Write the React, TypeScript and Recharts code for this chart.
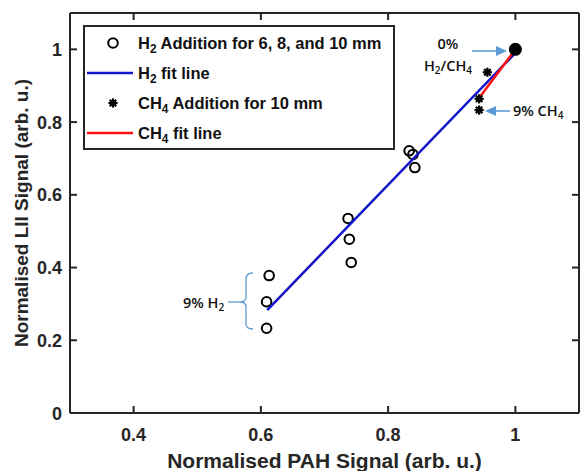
import React from 'react';
import { ScatterChart, Scatter, XAxis, YAxis, Legend } from 'recharts';

// H2 addition points (6, 8 and 10 mm)
const h2Pah = [0.613, 0.609, 0.609, 0.737, 0.739, 0.742, 0.833, 0.839, 0.842];
const h2Lii = [0.378, 0.306, 0.233, 0.535, 0.478, 0.414, 0.721, 0.711, 0.675];

// CH4 addition points (10 mm)
const ch4Pah = [0.956, 0.943, 0.943];
const ch4Lii = [0.937, 0.864, 0.833];

// 0% H2/CH4 reference point
const refPah = [1.0];
const refLii = [1.0];

// fit lines (end points)
const h2FitPah = [0.61, 1.0];
const h2FitLii = [0.283, 0.99];
const ch4FitPah = [0.943, 1.0];
const ch4FitLii = [0.866, 1.0];

const xTicks = [0.4, 0.6, 0.8, 1];
const yTicks = [0, 0.2, 0.4, 0.6, 0.8, 1];

const toPoints = (xs: number[], ys: number[]) => xs.map((x, i) => ({ pah: x, lii: ys[i] }));

const AXIS = '#262626';
const FONT = '"Liberation Sans", Arial, sans-serif';
const BLUE = '#1414c8';
const RED = '#ff1010';
const NOTE = '#5b9bd5';
const TICK_LEN = 7;

const OpenCircle = (props: any) => (
    <circle cx={props.cx} cy={props.cy} r={4.8} fill="none" stroke="#000" strokeWidth={2} />
);

const Star = (props: any) => {
    const { cx, cy } = props;
    const r = 4.6;
    const arms = [0, 45, 90, 135].map((a) => {
        const rad = (a * Math.PI) / 180;
        return (
            <line key={a} x1={cx - r * Math.cos(rad)} y1={cy - r * Math.sin(rad)} x2={cx + r * Math.cos(rad)} y2={cy + r * Math.sin(rad)} stroke="#000" strokeWidth={2.2} />
        );
    });
    return <g>{arms}<circle cx={cx} cy={cy} r={2.8} fill="#000" /></g>;
};

const BigDot = (props: any) => <circle cx={props.cx} cy={props.cy} r={6.5} fill="#000" />;

const NoShape = () => <g />;

// ticks drawn inward, like a MATLAB box
const tickText = { fill: AXIS, fontSize: 18, fontWeight: 'bold' as const, fontFamily: FONT };

const BottomTick = (props: any) => {
    const { x, y, payload } = props;
    return (
        <g>
            <line x1={x} y1={y} x2={x} y2={y - TICK_LEN} stroke={AXIS} strokeWidth={2} />
            <text x={x} y={y + 28} textAnchor="middle" style={tickText}>{payload.value}</text>
        </g>
    );
};
const TopTick = (props: any) => (
    <line x1={props.x} y1={props.y} x2={props.x} y2={props.y + TICK_LEN} stroke={AXIS} strokeWidth={2} />
);
const LeftTick = (props: any) => {
    const { x, y, payload } = props;
    return (
        <g>
            <line x1={x} y1={y} x2={x + TICK_LEN} y2={y} stroke={AXIS} strokeWidth={2} />
            <text x={x - 8} y={y + 6.5} textAnchor="end" style={tickText}>{payload.value}</text>
        </g>
    );
};
const RightTick = (props: any) => (
    <line x1={props.x} y1={props.y} x2={props.x - TICK_LEN} y2={props.y} stroke={AXIS} strokeWidth={2} />
);

const Sub = ({ children }: { children: React.ReactNode }) => (
    <span style={{ fontSize: '0.72em', position: 'relative', top: '0.35em' }}>{children}</span>
);

const rowStyle: React.CSSProperties = { position: 'absolute', left: 0, height: 30, width: '100%', display: 'flex', alignItems: 'center' };

const LegendBox = () => (
    <div style={{ position: 'relative', width: 312, height: 125, border: `2px solid ${AXIS}`, background: '#fff', boxSizing: 'border-box', fontFamily: FONT, fontWeight: 'bold', fontSize: 16.5, color: '#111' }}>
        <div style={{ ...rowStyle, top: 1 }}>
            <svg width={52} height={30}><OpenCircle cx={28} cy={15} /></svg>
            <span style={{ marginLeft: 1 }}>H<Sub>2</Sub> Addition for 6, 8, and 10 mm</span>
        </div>
        <div style={{ ...rowStyle, top: 31 }}>
            <svg width={52} height={30}><line x1={2} y1={15} x2={48} y2={15} stroke={BLUE} strokeWidth={2.5} /></svg>
            <span style={{ marginLeft: 1 }}>H<Sub>2</Sub> fit line</span>
        </div>
        <div style={{ ...rowStyle, top: 61 }}>
            <svg width={52} height={30}><Star cx={28} cy={15} /></svg>
            <span style={{ marginLeft: 1 }}>CH<Sub>4</Sub> Addition for 10 mm</span>
        </div>
        <div style={{ ...rowStyle, top: 91 }}>
            <svg width={52} height={30}><line x1={2} y1={15} x2={48} y2={15} stroke={RED} strokeWidth={2.5} /></svg>
            <span style={{ marginLeft: 1 }}>CH<Sub>4</Sub> fit line</span>
        </div>
    </div>
);

const noteText = { fontFamily: '"Open Sans", Lato, sans-serif', fontSize: 14.5, fontWeight: 600, fill: '#111' };

const Notes = () => (
    <svg width={581} height={471} style={{ position: 'absolute', left: 0, top: 0, pointerEvents: 'none' }}>
        <text x={448} y={49} textAnchor="middle" style={noteText}>0%</text>
        <text x={448} y={71} textAnchor="middle" style={noteText}>
            H<tspan fontSize={10} dy={3}>2</tspan><tspan dy={-3}>/CH</tspan><tspan fontSize={10} dy={3}>4</tspan>
        </text>
        <line x1={472} y1={51} x2={498} y2={51} stroke={NOTE} strokeWidth={1.6} />
        <polygon points="496,46 507,51 496,56" fill={NOTE} />

        <text x={513} y={116} style={noteText}>
            9% CH<tspan fontSize={10} dy={3}>4</tspan>
        </text>
        <line x1={510} y1={111} x2={494} y2={111} stroke={NOTE} strokeWidth={1.6} />
        <polygon points="496,106 485,111 496,116" fill={NOTE} />

        <text x={183} y={308} style={noteText}>
            9% H<tspan fontSize={10} dy={3}>2</tspan>
        </text>
        <line x1={228} y1={302} x2={240} y2={302} stroke={NOTE} strokeWidth={1.3} />
        <path d="M253,273 Q246,273 246,279 L246,297 Q246,302 240,302 Q246,302 246,307 L246,324 Q246,329 253,329" fill="none" stroke={NOTE} strokeWidth={1.3} />
    </svg>
);

const axisLine = { stroke: AXIS, strokeWidth: 2 };

export default function App() {
    return (
        <div style={{ position: 'relative', width: 581, height: 471, background: '#fff' }}>
            <style>{'body{margin:0}'}</style>
            <ScatterChart width={581} height={471} margin={{ top: 12, right: 1, bottom: 0, left: 0 }}>
                <XAxis
                    xAxisId="bottom"
                    dataKey="pah"
                    type="number"
                    domain={[0.3, 1.1]}
                    ticks={xTicks}
                    allowDataOverflow
                    height={58}
                    axisLine={axisLine}
                    tickLine={false}
                    tickSize={0}
                    tickMargin={0}
                    tick={BottomTick}
                    label={{ value: 'Normalised PAH Signal (arb. u.)', position: 'insideBottom', offset: 3, style: { fill: AXIS, fontSize: 21, fontWeight: 'bold', fontFamily: FONT } }}
                />
                <XAxis
                    xAxisId="top"
                    orientation="top"
                    dataKey="pah"
                    type="number"
                    domain={[0.3, 1.1]}
                    ticks={xTicks}
                    allowDataOverflow
                    height={1}
                    axisLine={axisLine}
                    tickLine={false}
                    tickSize={0}
                    tickMargin={0}
                    tick={TopTick}
                />
                <YAxis
                    yAxisId="left"
                    dataKey="lii"
                    type="number"
                    domain={[0, 1.1]}
                    ticks={yTicks}
                    allowDataOverflow
                    width={70}
                    axisLine={axisLine}
                    tickLine={false}
                    tickSize={0}
                    tickMargin={0}
                    tick={LeftTick}
                    label={{ value: 'Normalised LII Signal (arb. u.)', angle: -90, position: 'insideLeft', offset: 21, style: { textAnchor: 'middle', fill: AXIS, fontSize: 19, fontWeight: 'bold', fontFamily: FONT } }}
                />
                <YAxis
                    yAxisId="right"
                    orientation="right"
                    dataKey="lii"
                    type="number"
                    domain={[0, 1.1]}
                    ticks={yTicks}
                    allowDataOverflow
                    width={1}
                    axisLine={axisLine}
                    tickLine={false}
                    tickSize={0}
                    tickMargin={0}
                    tick={RightTick}
                />
                <Legend
                    layout="vertical"
                    align="center"
                    verticalAlign="middle"
                    content={() => <LegendBox />}
                    wrapperStyle={{ position: 'absolute', left: 83, top: 25, width: 312, height: 125 }}
                />
                <Scatter name="H2 Addition for 6, 8, and 10 mm" xAxisId="bottom" yAxisId="left" data={toPoints(h2Pah, h2Lii)} shape={OpenCircle} isAnimationActive={false} />
                <Scatter name="H2 fit line" xAxisId="bottom" yAxisId="left" data={toPoints(h2FitPah, h2FitLii)} line={{ stroke: BLUE, strokeWidth: 2.5 }} shape={NoShape} isAnimationActive={false} />
                <Scatter name="CH4 fit line" xAxisId="bottom" yAxisId="left" data={toPoints(ch4FitPah, ch4FitLii)} line={{ stroke: RED, strokeWidth: 2.5 }} shape={NoShape} isAnimationActive={false} />
                <Scatter name="CH4 Addition for 10 mm" xAxisId="bottom" yAxisId="left" data={toPoints(ch4Pah, ch4Lii)} shape={Star} isAnimationActive={false} />
                <Scatter name="0% H2/CH4" xAxisId="bottom" yAxisId="left" data={toPoints(refPah, refLii)} shape={BigDot} isAnimationActive={false} />
            </ScatterChart>
            <Notes />
        </div>
    );
}
